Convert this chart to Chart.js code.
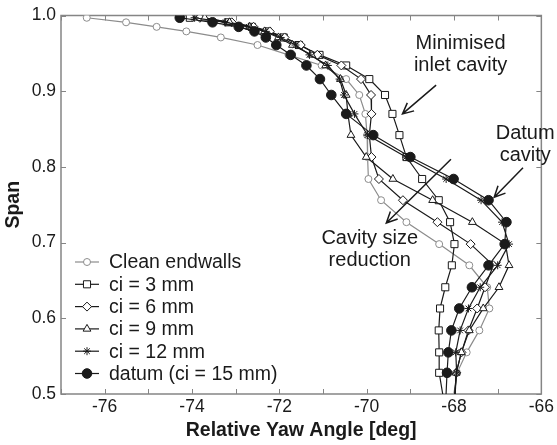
<!DOCTYPE html>
<html>
<head>
<meta charset="utf-8">
<script src="https://cdn.jsdelivr.net/npm/chart.js@4.4.1/dist/chart.umd.min.js"></script>
<style>
  html, body { margin: 0; padding: 0; background: #fff; }
</style>
</head>
<body>
<canvas id="yawChart" width="557" height="445"></canvas>
<script>
// --- traverse data: span stations shared by every case, yaw angle in deg ---
const span = [0.997, 0.991, 0.985, 0.979, 0.971, 0.961, 0.948, 0.934, 0.916, 0.895, 0.870, 0.842,
              0.813, 0.784, 0.756, 0.727, 0.698, 0.670, 0.641, 0.613, 0.584, 0.555, 0.528, 0.490];

const yawClean = [-76.41, -75.51, -74.81, -74.13, -73.34, -72.50, -71.79, -71.03, -70.47, -70.17, -70.03, -69.99,
                  -69.98, -69.96, -69.67, -69.09, -68.34, -67.65, -67.24, -67.19, -67.42, -67.71, -67.93, -68.03];
const yawCi3 = [-74.05, -73.18, -72.63, -72.27, -71.90, -71.55, -71.08, -70.47, -69.94, -69.58, -69.41, -69.25,
                -69.09, -68.73, -68.35, -68.09, -67.99, -68.05, -68.20, -68.32, -68.35, -68.34, -68.34, -68.23];
const yawCi6 = [-73.82, -73.09, -72.59, -72.22, -71.88, -71.51, -71.13, -70.58, -70.13, -69.90, -69.89, -69.94,
                -69.89, -69.72, -69.17, -68.38, -67.62, -67.10, -67.29, -67.47, -67.67, -67.83, -67.95, -67.99];
const yawCi9 = [-73.71, -73.14, -72.68, -72.34, -72.02, -71.70, -71.26, -70.94, -70.60, -70.47, -70.43, -70.36,
                -70.01, -69.40, -68.49, -67.58, -66.82, -66.74, -66.97, -67.33, -67.65, -67.83, -67.95, -67.98];
const yawCi12 = [-73.94, -73.23, -72.70, -72.31, -71.97, -71.63, -71.31, -70.89, -70.62, -70.52, -70.28, -69.98,
                 -69.10, -68.18, -67.38, -66.90, -66.74, -67.00, -67.40, -67.67, -67.86, -67.96, -67.94, -68.00];
const yawDatum = [-74.28, -73.53, -72.93, -72.57, -72.31, -72.07, -71.74, -71.38, -71.07, -70.81, -70.47, -69.85,
                  -69.00, -68.01, -67.21, -66.80, -66.84, -67.21, -67.59, -67.88, -68.06, -68.13, -68.16, -68.19];

const seriesNames = ['Clean endwalls', 'ci = 3 mm', 'ci = 6 mm', 'ci = 9 mm', 'ci = 12 mm', 'datum (ci = 15 mm)'];

// annotations, in axis units
const noteTexts = [
    { lines: ['Minimised', 'inlet cavity'], x: -67.85, y: 0.963 },
    { lines: ['Datum', 'cavity'], x: -66.37, y: 0.844 },
    { lines: ['Cavity size', 'reduction'], x: -69.93, y: 0.706 }
];
const noteArrows = [
    { from: [-68.41, 0.908], to: [-69.18, 0.870] },
    { from: [-66.42, 0.799], to: [-67.08, 0.760] },
    { from: [-68.07, 0.810], to: [-69.55, 0.726] }
];

const FONT = "'Liberation Sans', Arial, Helvetica, sans-serif";
const INK = '#1a1a1a';

function pairs(xs) {
    return xs.map((v, i) => ({ x: v, y: span[i] }));
}

function series(label, xs, style, opts) {
    return Object.assign({
        label: label,
        data: pairs(xs),
        borderColor: INK,
        borderWidth: 1.2,
        pointStyle: style,
        pointRadius: 4,
        pointBorderColor: INK,
        pointBackgroundColor: '#fff',
        pointBorderWidth: 1,
        tension: 0,
        order: 1
    }, opts || {});
}

// frame round the plot area with inward ticks on all four sides
const frameTicks = {
    id: 'frameTicks',
    beforeDatasetsDraw(chart) {
        const { ctx, chartArea: a, scales: { x, y } } = chart;
        ctx.save();
        ctx.strokeStyle = '#858585';
        ctx.lineWidth = 1.5;
        ctx.strokeRect(a.left, a.top, a.right - a.left, a.bottom - a.top);
        ctx.lineWidth = 1;
        ctx.beginPath();
        x.ticks.forEach(t => {
            const px = Math.round(x.getPixelForValue(t.value)) + 0.5;
            ctx.moveTo(px, a.bottom); ctx.lineTo(px, a.bottom - 5);
            ctx.moveTo(px, a.top); ctx.lineTo(px, a.top + 5);
        });
        y.ticks.forEach(t => {
            const py = Math.round(y.getPixelForValue(t.value)) + 0.5;
            ctx.moveTo(a.left, py); ctx.lineTo(a.left + 5, py);
            ctx.moveTo(a.right, py); ctx.lineTo(a.right - 5, py);
        });
        ctx.stroke();
        ctx.restore();
    }
};

// text notes and open-headed arrows
const notes = {
    id: 'notes',
    afterDatasetsDraw(chart) {
        const { ctx, scales: { x, y } } = chart;
        ctx.save();
        ctx.fillStyle = INK;
        ctx.strokeStyle = INK;
        ctx.font = '20px ' + FONT;
        ctx.textAlign = 'center';
        ctx.textBaseline = 'middle';
        noteTexts.forEach(n => {
            const px = x.getPixelForValue(n.x);
            const py = y.getPixelForValue(n.y);
            n.lines.forEach((l, i) => ctx.fillText(l, px, py + i * 22));
        });
        ctx.lineWidth = 1.5;
        noteArrows.forEach(a => {
            const x0 = x.getPixelForValue(a.from[0]), y0 = y.getPixelForValue(a.from[1]);
            const x1 = x.getPixelForValue(a.to[0]), y1 = y.getPixelForValue(a.to[1]);
            const ang = Math.atan2(y1 - y0, x1 - x0);
            ctx.beginPath();
            ctx.moveTo(x0, y0); ctx.lineTo(x1, y1);
            ctx.moveTo(x1 - 12 * Math.cos(ang - 0.45), y1 - 12 * Math.sin(ang - 0.45));
            ctx.lineTo(x1, y1);
            ctx.lineTo(x1 - 12 * Math.cos(ang + 0.45), y1 - 12 * Math.sin(ang + 0.45));
            ctx.stroke();
        });
        ctx.restore();
    }
};

// legend drawn inside the plot, lower left
const innerLegend = {
    id: 'innerLegend',
    afterDraw(chart, args, o) {
        const ctx = chart.ctx;
        chart.data.datasets.forEach((ds, i) => {
            const cy = o.top + i * o.gap;
            ctx.save();
            ctx.strokeStyle = ds.borderColor;
            ctx.lineWidth = ds.borderWidth;
            ctx.beginPath();
            ctx.moveTo(o.left, cy);
            ctx.lineTo(o.left + o.len, cy);
            ctx.stroke();
            ctx.fillStyle = ds.pointBackgroundColor;
            ctx.strokeStyle = ds.pointBorderColor;
            ctx.lineWidth = ds.pointBorderWidth;
            Chart.helpers.drawPoint(ctx, {
                pointStyle: ds.pointStyle, radius: ds.pointRadius, rotation: 0, borderWidth: ds.pointBorderWidth
            }, o.left + o.len / 2, cy);
            ctx.fillStyle = INK;
            ctx.font = '19.5px ' + FONT;
            ctx.textBaseline = 'middle';
            ctx.fillText(ds.label, o.textX, cy + 1);
            ctx.restore();
        });
    }
};

const grey = '#8c8c8c';

new Chart(document.getElementById('yawChart'), {
    type: 'line',
    data: {
        datasets: [
            series(seriesNames[0], yawClean, 'circle', {
                borderColor: grey, pointBorderColor: grey, pointRadius: 3.5, order: 6
            }),
            series(seriesNames[1], yawCi3, 'rect', { pointRadius: 5, order: 5 }),
            series(seriesNames[2], yawCi6, 'rectRot', { pointRadius: 4.5, order: 4 }),
            series(seriesNames[3], yawCi9, 'triangle', { pointRadius: 4.5, order: 3 }),
            series(seriesNames[4], yawCi12, 'star', { pointRadius: 4, order: 2 }),
            series(seriesNames[5], yawDatum, 'circle', {
                pointRadius: 4.8, pointBackgroundColor: INK, order: 0
            })
        ]
    },
    options: {
        responsive: false,
        animation: false,
        devicePixelRatio: 1,
        layout: { padding: { left: 0, right: 14, top: 15, bottom: 0 } },
        plugins: {
            legend: { display: false },
            tooltip: { enabled: false },
            innerLegend: { left: 75, len: 24, textX: 109, top: 262, gap: 22.3 }
        },
        scales: {
            x: {
                type: 'linear',
                min: -77,
                max: -66,
                grid: { display: false, drawTicks: false },
                border: { display: false },
                ticks: {
                    stepSize: 1,
                    autoSkip: false,
                    maxRotation: 0,
                    padding: 3,
                    color: INK,
                    font: { size: 17.5, family: FONT },
                    callback: v => (v % 2 === 0 ? String(v) : '')
                },
                title: {
                    display: true,
                    text: 'Relative Yaw Angle [deg]',
                    color: INK,
                    font: { size: 19.5, weight: 'bold', family: FONT, lineHeight: 1 },
                    padding: { top: 0, bottom: 5 }
                },
                afterFit(s) { s.height = 51; }
            },
            y: {
                type: 'linear',
                min: 0.5,
                max: 1.0,
                grid: { display: false, drawTicks: false },
                border: { display: false },
                ticks: {
                    stepSize: 0.1,
                    padding: 5,
                    color: INK,
                    font: { size: 17.5, family: FONT },
                    callback: v => v.toFixed(1)
                },
                title: {
                    display: true,
                    text: 'Span',
                    color: INK,
                    font: { size: 19.5, weight: 'bold', family: FONT, lineHeight: 1 },
                    padding: { top: 4, bottom: 0 }
                },
                afterFit(s) { s.width = 61; }
            }
        }
    },
    plugins: [frameTicks, notes, innerLegend]
});
</script>
</body>
</html>
